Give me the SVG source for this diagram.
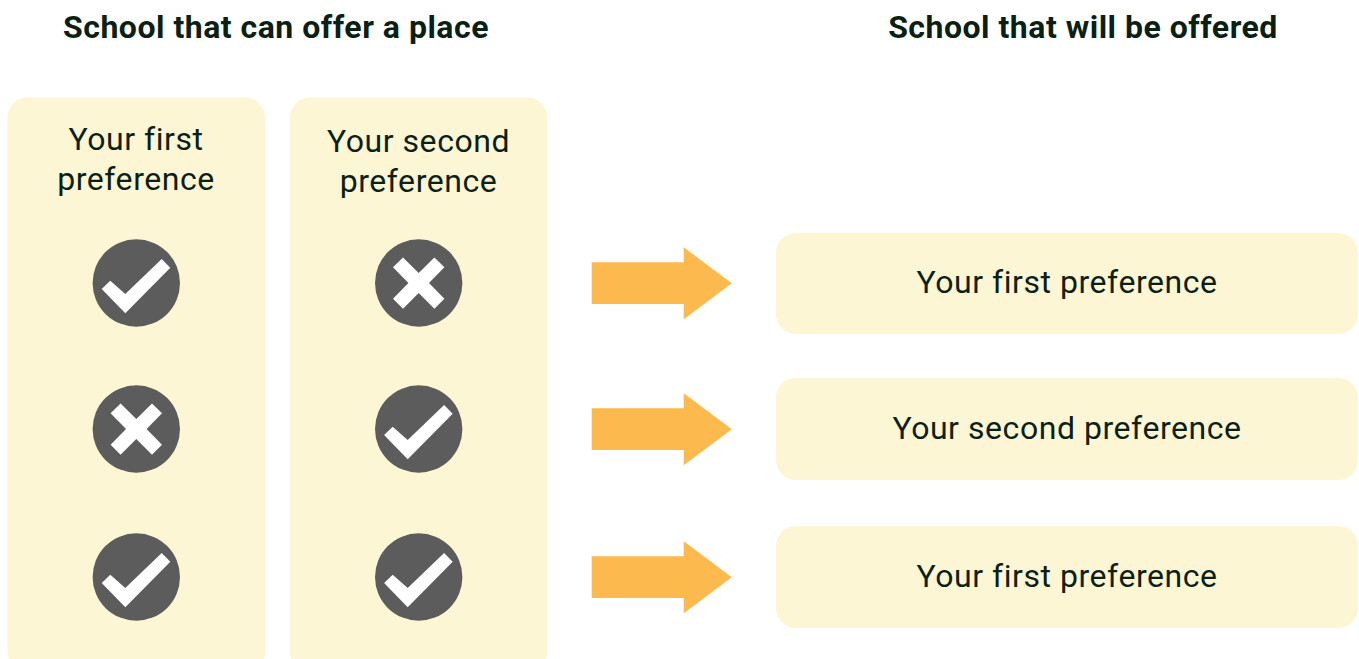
<svg xmlns="http://www.w3.org/2000/svg" width="1359" height="659" viewBox="0 0 1359 659">
<style>
.panel{fill:#fdf6d4}
.t{font-family:Roboto,"Liberation Sans",sans-serif;font-size:32px;fill:#0b1f14;text-anchor:middle;letter-spacing:.55px}
.h{font-weight:700;letter-spacing:.5px}
.disc{fill:#5c5c5c}
.mark{fill:#fff}
.arrow{fill:#fcb94d}
</style>
<defs>
<g id="yes"><circle class="disc" r="43.7"/><path class="mark" d="M-34.600 6L-26-2.300L-11 11L25.400-24L34-15.300L-11 30.300Z"/></g>
<g id="no"><circle class="disc" r="43.7"/><path class="mark" d="M-25.700-15.700L-15.700-25.500L0-10L15.700-25.500L25.700-15.700L10.300 0L25.700 15.700L15.700 25.700L0 10L-15.700 25.700L-25.700 15.700L-10.300 0Z"/></g>
<path id="arr" class="arrow" d="M591.700 262.300H683.700V247.300L731.700 283.300L683.700 319.300V304H591.700Z"/>
</defs>
<g id="title-left"><text class="t h" x="276" y="38">School that can offer a place</text></g>
<g id="title-right"><text class="t h" x="1083" y="38">School that will be offered</text></g>
<g id="col-first"><rect class="panel" x="7.500" y="97.300" width="257.500" height="575" rx="20"/>
<text class="t" x="136" y="150">Your first</text><text class="t" x="136" y="190">preference</text></g>
<g id="col-second"><rect class="panel" x="290" y="97.300" width="257" height="575" rx="20"/>
<text class="t" x="418.500" y="152">Your second</text><text class="t" x="418.500" y="192">preference</text></g>
<g id="m1"><use href="#yes" x="136.300" y="283"/></g>
<g id="m2"><use href="#no" x="136.300" y="429"/></g>
<g id="m3"><use href="#yes" x="136.300" y="577"/></g>
<g id="m4"><use href="#no" x="418.700" y="283"/></g>
<g id="m5"><use href="#yes" x="418.700" y="429"/></g>
<g id="m6"><use href="#yes" x="418.700" y="577"/></g>
<g id="connectors"><use href="#arr"/><use href="#arr" y="146"/><use href="#arr" y="294"/></g>
<g id="r1"><rect class="panel" x="776" y="233" width="582" height="101" rx="20"/><text class="t" x="1067" y="293">Your first preference</text></g>
<g id="r2"><rect class="panel" x="776" y="378" width="582" height="102" rx="20"/><text class="t" x="1067" y="439">Your second preference</text></g>
<g id="r3"><rect class="panel" x="776" y="526" width="582" height="102" rx="20"/><text class="t" x="1067" y="587">Your first preference</text></g>
</svg>
